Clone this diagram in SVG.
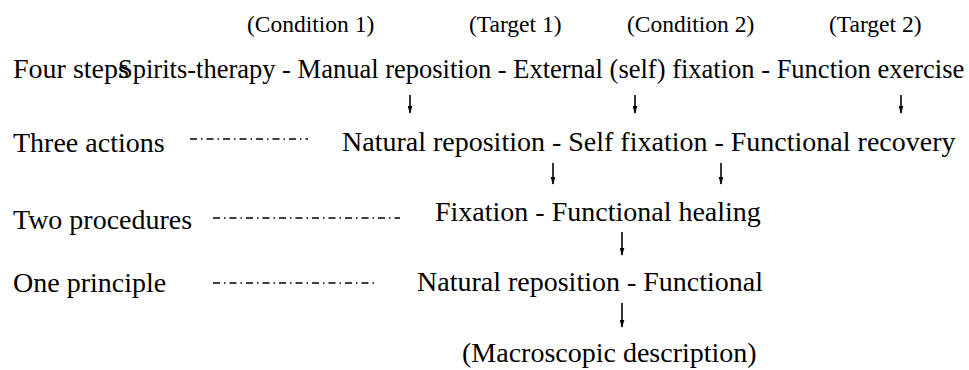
<svg xmlns="http://www.w3.org/2000/svg" width="969" height="370" viewBox="0 0 969 370">
  <style>
    text { font-family: 'Liberation Serif', 'Times New Roman', Times, serif; fill: #000; }
    .hdr { font-size: 23.5px; }
    .lbl { font-size: 28px; }
    .main1 { font-size: 26.5px; }
    .main { font-size: 28px; }
    .arrow { stroke: #000; stroke-width: 1.6; fill: none; marker-end: url(#ah); }
    .dash { stroke: #000; stroke-width: 1.3; fill: none; stroke-dasharray: 7 4 1.5 4; }
  </style>
  <defs>
    <marker id="ah" viewBox="0 0 10 6" refX="9" refY="3" markerWidth="8" markerHeight="5" markerUnits="userSpaceOnUse" orient="auto">
      <path d="M0,0 L10,3 L0,6 Z" fill="#000"/>
    </marker>
  </defs>
  <rect width="969" height="370" fill="#fff"/>

  <g id="headers">
    <text class="hdr" x="247" y="32" font-family="Liberation Serif, serif">(Condition 1)</text>
    <text class="hdr" x="469" y="32" font-family="Liberation Serif, serif">(Target 1)</text>
    <text class="hdr" x="627" y="32" font-family="Liberation Serif, serif">(Condition 2)</text>
    <text class="hdr" x="829" y="32" font-family="Liberation Serif, serif">(Target 2)</text>
  </g>

  <g id="four-steps">
    <text class="lbl" x="13" y="78">Four steps</text>
  </g>
  <g id="step-chain">
    <text class="main1" x="118" y="78">Spirits-therapy - Manual reposition - External (self) fixation - Function exercise</text>
  </g>

  <g id="three-actions">
    <text class="lbl" x="13" y="152">Three actions</text>
  </g>
  <g id="action-chain">
    <text class="main" x="342" y="151">Natural reposition - Self fixation - Functional recovery</text>
  </g>

  <g id="two-procedures">
    <text class="lbl" x="13" y="229">Two procedures</text>
  </g>
  <g id="procedure-chain">
    <text class="main" x="435" y="221">Fixation - Functional healing</text>
  </g>

  <g id="one-principle">
    <text class="lbl" x="13" y="292">One principle</text>
  </g>
  <g id="principle-chain">
    <text class="main" x="417" y="291">Natural reposition - Functional</text>
  </g>

  <g id="macroscopic">
    <text class="main" x="462" y="362">(Macroscopic description)</text>
  </g>

  <g id="connectors">
    <line class="dash" x1="190" y1="139" x2="308" y2="139"/>
    <line class="dash" x1="213" y1="218" x2="400" y2="218"/>
    <line class="dash" x1="213" y1="283" x2="378" y2="283"/>
    <line class="arrow" x1="410" y1="95" x2="410" y2="113"/>
    <line class="arrow" x1="635" y1="95" x2="635" y2="113"/>
    <line class="arrow" x1="901" y1="95" x2="901" y2="113"/>
    <line class="arrow" x1="553" y1="163" x2="553" y2="184"/>
    <line class="arrow" x1="721" y1="163" x2="721" y2="184"/>
    <line class="arrow" x1="622" y1="232" x2="622" y2="255"/>
    <line class="arrow" x1="622" y1="303" x2="622" y2="327"/>
  </g>
</svg>
